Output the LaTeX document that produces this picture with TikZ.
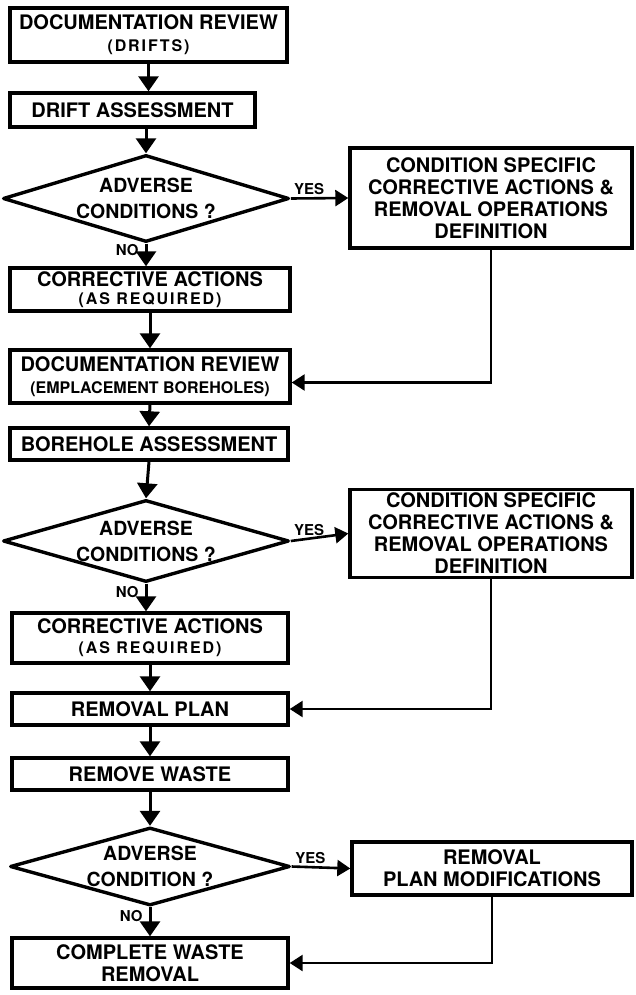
\documentclass[tikz,border=0pt]{standalone}
\usepackage{fontspec}
\setmainfont{TeX Gyre Heros}
\usetikzlibrary{arrows.meta,shapes.geometric}
\newcommand{\parenfont}{\fontsize{16}{17}\selectfont}
\newcommand{\widefont}{\parenfont\addfontfeature{LetterSpace=12}}

\begin{document}
\begin{tikzpicture}[x=1pt,y=-1pt,line width=3.4pt,
  box/.style={draw,rectangle,inner sep=0pt,align=center,font=\fontsize{20}{22}\selectfont\bfseries},
  ask/.style={draw,diamond,aspect=3.6,inner sep=0pt,align=center,line join=round,font=\fontsize{19.5}{26}\selectfont\bfseries},
  flow/.style={line width=3pt,-{Triangle[length=15pt,width=20pt]}},
  side/.style={line width=2.6pt,-{Triangle[length=13pt,width=16pt]}},
  tag/.style={inner sep=2pt,font=\fontsize{15}{16}\selectfont\bfseries}]
\path[use as bounding box] (0,0) rectangle (635,995);
\node[box,minimum width=277,minimum height=54] (docdrift) at (148.5,35) {DOCUMENTATION REVIEW\\{\widefont (DRIFTS)}};
\node[box,minimum width=245,minimum height=34] (driftas) at (132.5,110) {DRIFT ASSESSMENT};
\node[ask,minimum width=278,minimum height=87] (adv1) at (146,198.5) {ADVERSE\\CONDITIONS ?};
\node[box,minimum width=282,minimum height=100] (condA) at (491,198) {CONDITION SPECIFIC\\CORRECTIVE ACTIONS \&\\REMOVAL OPERATIONS\\DEFINITION};
\node[box,minimum width=280,minimum height=43] (corrA) at (150,289.5) {CORRECTIVE ACTIONS\\[-4pt]{\widefont (AS REQUIRED)}};
\node[box,minimum width=280,minimum height=53] (docbore) at (150,376.5) {DOCUMENTATION REVIEW\\{\parenfont (EMPLACEMENT BOREHOLES)}};
\node[box,minimum width=278,minimum height=32] (boreas) at (149,444) {BOREHOLE ASSESSMENT};
\node[ask,minimum width=280,minimum height=82] (adv2) at (146,541) {ADVERSE\\CONDITIONS ?};
\node[box,minimum width=282,minimum height=88] (condB) at (491,533.5) {CONDITION SPECIFIC\\CORRECTIVE ACTIONS \&\\REMOVAL OPERATIONS\\DEFINITION};
\node[box,minimum width=276,minimum height=50] (corrB) at (150,638) {CORRECTIVE ACTIONS\\[-2pt]{\widefont (AS REQUIRED)}};
\node[box,minimum width=276,minimum height=32] (plan) at (150,709) {REMOVAL PLAN};
\node[box,minimum width=276,minimum height=32] (waste) at (150,774) {REMOVE WASTE};
\node[ask,minimum width=280,minimum height=78] (adv3) at (150,866.5) {ADVERSE\\CONDITION ?};
\node[box,minimum width=280,minimum height=53] (planmod) at (492,868.5) {REMOVAL\\PLAN MODIFICATIONS};
\node[box,minimum width=276,minimum height=50] (finish) at (150,963) {COMPLETE WASTE\\REMOVAL};
\draw[flow] (docdrift.south) -- (docdrift.south |- driftas.north);
\draw[flow] (adv1.north |- driftas.south) -- (adv1.north);
\draw[side] (adv1.east) -- node[tag,above,pos=.32] {YES} (condA.west);
\draw[flow] (adv1.south) -- node[tag,left=4pt,pos=.3] {NO} (adv1.south |- corrA.north);
\draw[flow] (corrA.south) -- (docbore.north);
\draw[side] (condA.south) |- ([yshift=-6pt]docbore.east);
\draw[flow] (docbore.south) -- (boreas.north);
\draw[flow] (boreas.south) -- (adv2.north);
\draw[side] (adv2.east) -- node[tag,above,pos=.32] {YES} (condB.west);
\draw[flow] (adv2.south) -- node[tag,left=4pt,pos=.3] {NO} (adv2.south |- corrB.north);
\draw[flow] (corrB.south) -- (plan.north);
\draw[side] (condB.south) |- (plan.east);
\draw[flow] (plan.south) -- (waste.north);
\draw[flow] (waste.south) -- (adv3.north);
\draw[side] (adv3.east) -- node[tag,above,pos=.32] {YES} (planmod.west);
\draw[flow] (adv3.south) -- node[tag,left=4pt,pos=.3] {NO} (adv3.south |- finish.north);
\draw[side] (planmod.south) |- (finish.east);
\end{tikzpicture}
\end{document}
